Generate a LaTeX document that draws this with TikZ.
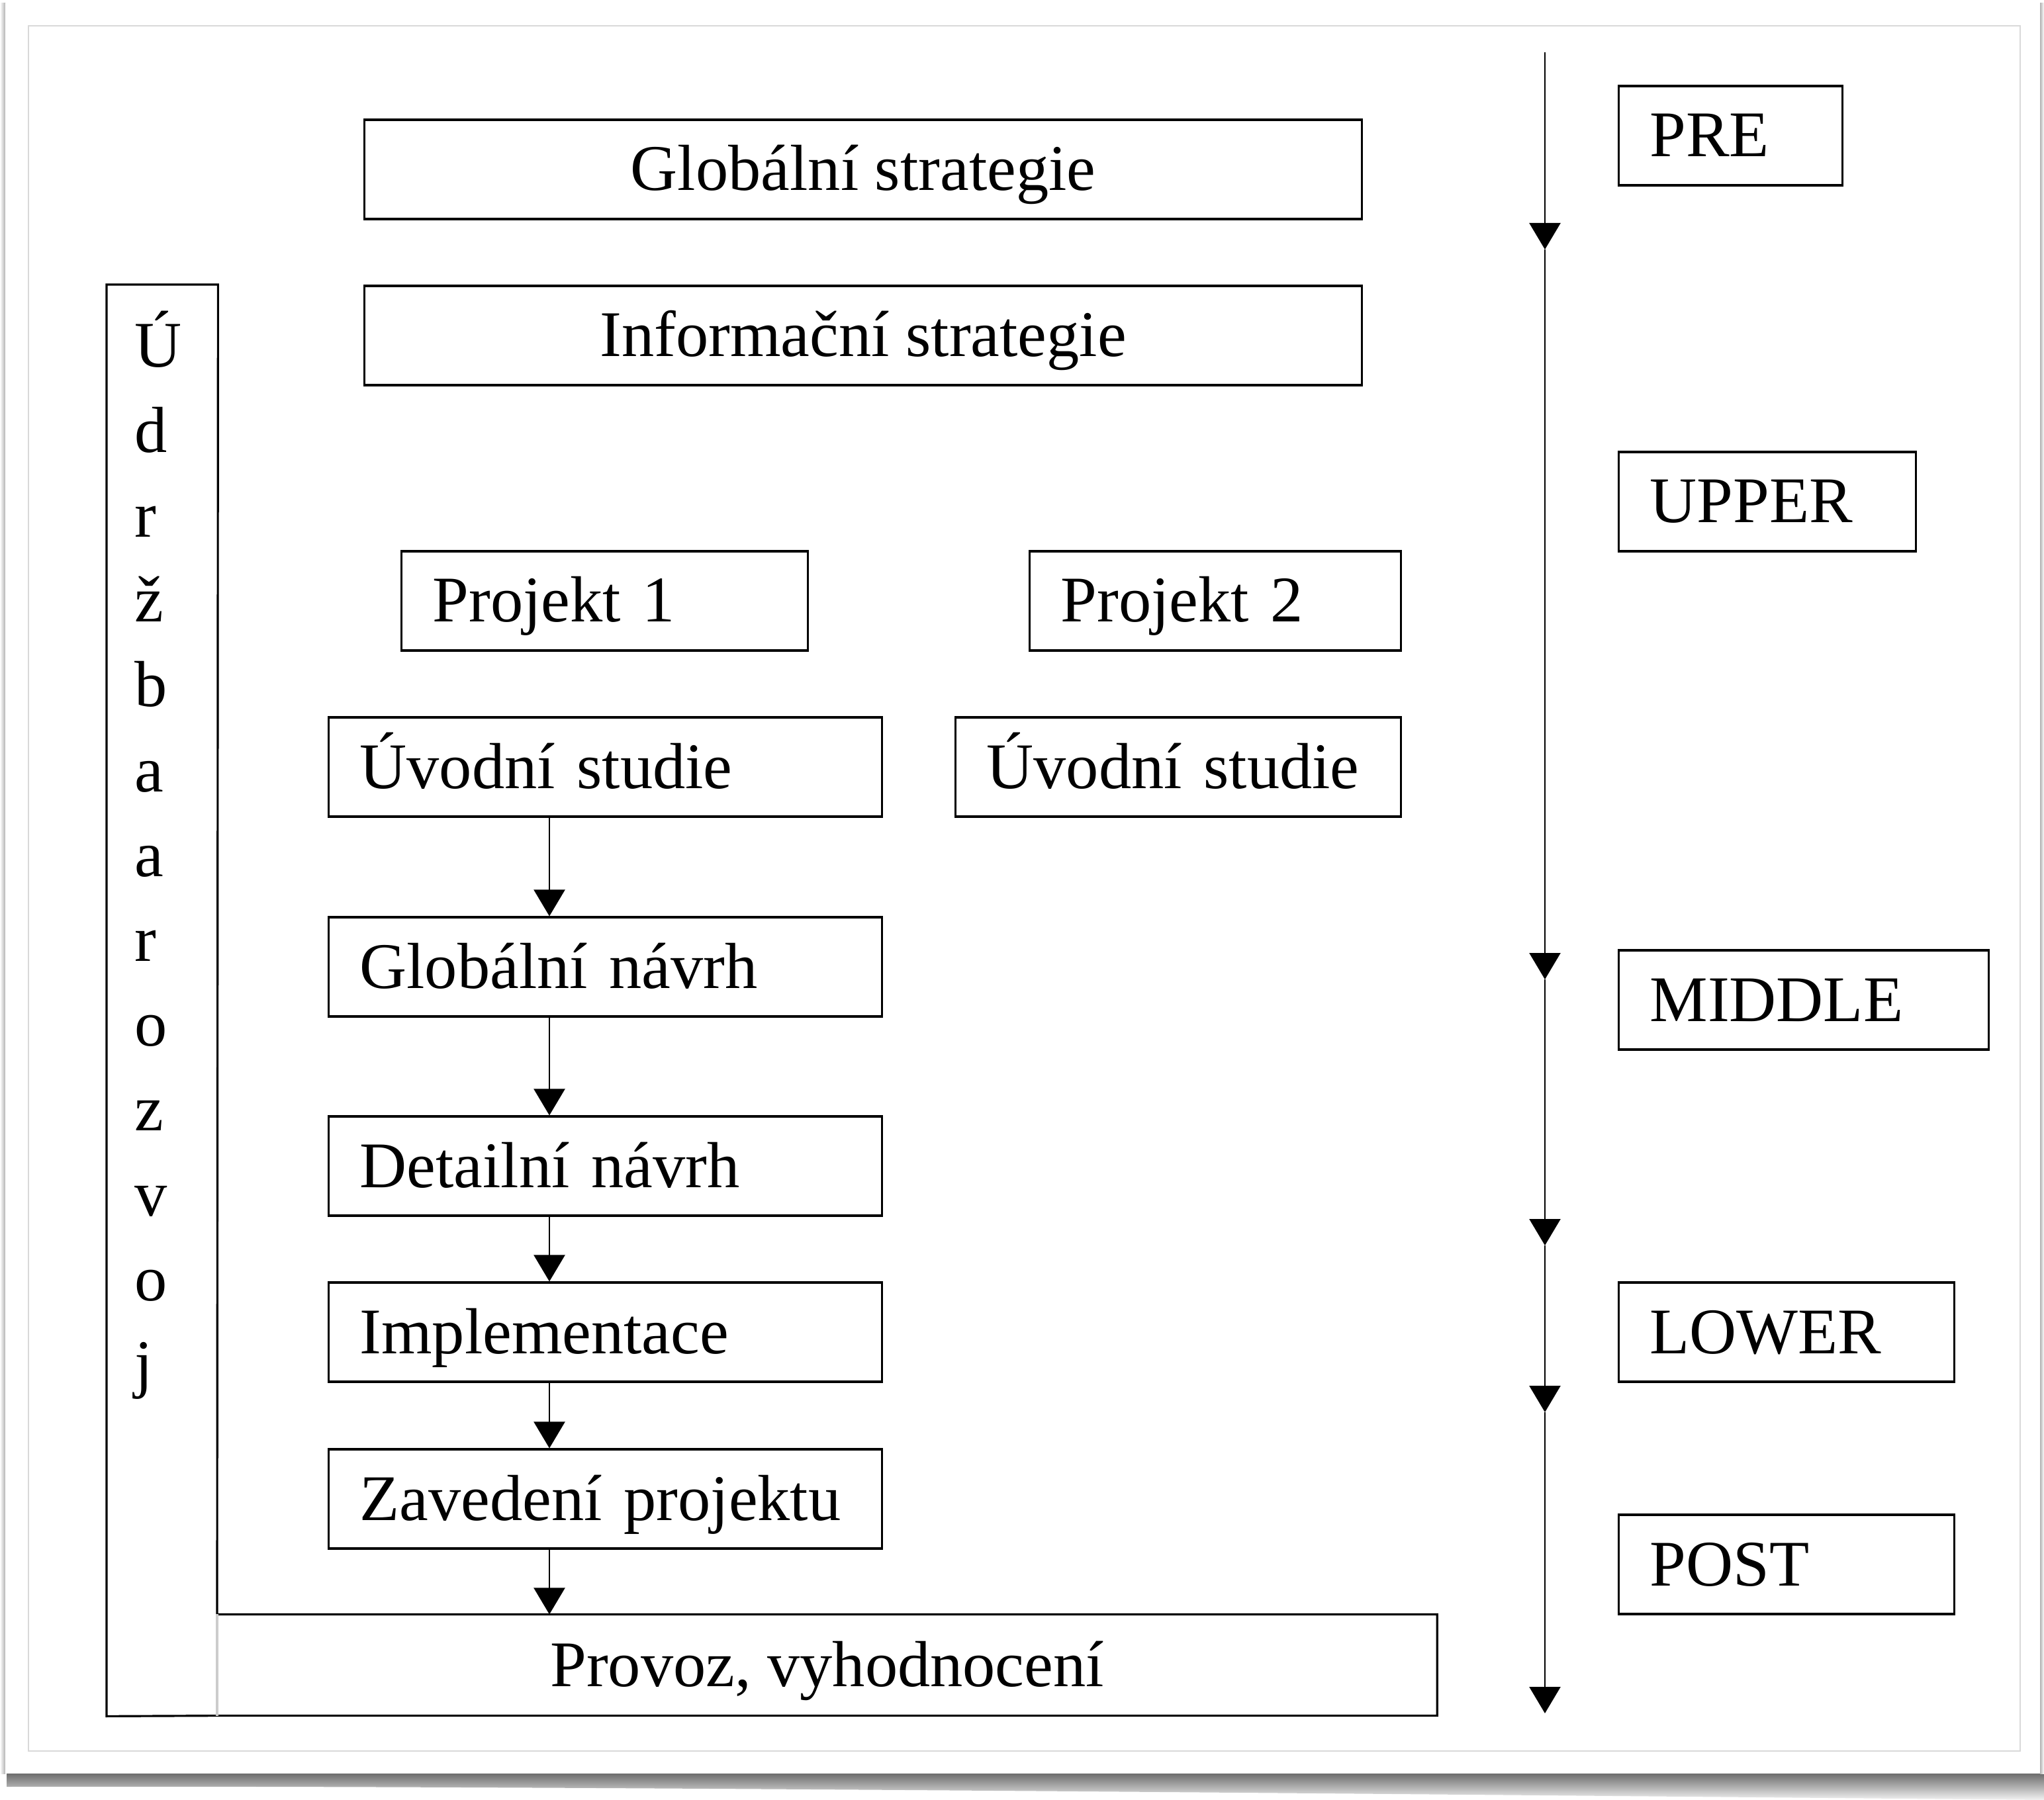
\documentclass[tikz,border=0pt]{standalone}
\usepackage{fontspec}
\setmainfont{Liberation Serif}
\usepackage{tikz}
\usetikzlibrary{positioning, arrows.meta}

\tikzset{
  stagebox/.style={draw, line width=0.9pt, anchor=west, minimum height=1.5cm,
    inner ysep=0pt, inner xsep=0.47cm, text height=0.84cm, text depth=0.2cm,
    font=\fontsize{28}{34}\selectfont},
  leftbox/.style={stagebox, text width=#1, align=left},
  midbox/.style={stagebox, minimum width=#1, align=center},
  letter/.style={anchor=base west, inner sep=0pt, font=\fontsize{28}{34}\selectfont},
  arr/.style={-{Triangle[width=4.7mm,length=4mm]}, line width=0.7pt},
}

\begin{document}
\begin{tikzpicture}
 \useasboundingbox (0,0) rectangle (30.88,-27.20);

 %page with shadow
 \shade[top color=black!60, bottom color=black!5] (0.10,-26.78) -- (30.88,-26.78) -- (30.88,-27.20) .. controls (20,-27.10) and (8,-26.98) .. (0.10,-27.00) -- cycle;
 \shade[left color=white, right color=black!30] (0,-0.05) rectangle (0.08,-26.80);
 \shade[left color=black!30, right color=white] (30.82,-0.05) rectangle (30.88,-26.80);
 \fill[white] (0.08,-0.05) rectangle (30.82,-26.80);
 \draw[black!15, line width=0.4pt] (0.43,-0.39) rectangle (30.52,-26.46);

 \node[midbox=15.07cm] (gstrat) at (5.49,-2.56) {Globální strategie};
 \node[midbox=15.07cm] (istrat) at (5.49,-5.07) {Informační strategie};

 \node[leftbox=5.20cm] (proj1) at (6.05,-9.08) {Projekt 1};
 \node[leftbox=4.67cm] (proj2) at (15.54,-9.08) {Projekt 2};
 \node[leftbox=7.42cm] (uvod1) at (4.95,-11.59) {Úvodní studie};
 \node[leftbox=5.79cm] (uvod2) at (14.42,-11.59) {Úvodní studie};
 \node[leftbox=7.42cm] (gnavrh) at (4.95,-14.61) {Globální návrh};
 \node[leftbox=7.42cm] (dnavrh) at (4.95,-17.62) {Detailní návrh};
 \node[leftbox=7.42cm] (impl) at (4.95,-20.13) {Implementace};
 \node[leftbox=7.42cm] (zaved) at (4.95,-22.65) {Zavedení projektu};
 \node[midbox=18.40cm, draw=none] (provoz) at (3.28,-25.16) {Provoz, vyhodnocení};

 %maintenance column
 \node[anchor=north west, inner sep=0pt, minimum width=1.67cm, minimum height=21.62cm] (udrzba) at (1.61,-4.30) {};
 \draw[line width=0.9pt] (provoz.north west) -- (udrzba.north east) -- (udrzba.north west) -- (udrzba.south west) -- (provoz.south west) -- (provoz.south east) -- (provoz.north east) -- (provoz.north west);
 \draw[black!20, line width=0.9pt] (provoz.north west) -- (provoz.south west);
 \foreach \ch [count=\i from 0] in {Ú,d,r,ž,b,a,a,r,o,z,v,o,j}
   \node[letter] (ch\i) at (2.03,{-5.55-1.282*\i}) {\ch};

 %flow arrows
 \coordinate (ax) at (8.30,0);
 \foreach \a/\b in {uvod1/gnavrh, gnavrh/dnavrh, dnavrh/impl, impl/zaved, zaved/provoz}
   \draw[arr] (\a.south -| ax) -- (\b.north -| ax);

 %phase axis
 \foreach \n/\y in {0/0.79, 1/3.77, 2/14.80, 3/18.82, 4/21.34, 5/25.89}
   \coordinate (t\n) at (23.34,-\y);
 \foreach \a/\b in {0/1, 1/2, 2/3, 3/4, 4/5}
   \draw[arr] (t\a) -- (t\b);

 \node[leftbox=2.44cm] (pre) at (24.44,-2.05) {PRE};
 \node[leftbox=3.55cm] (upper) at (24.44,-7.58) {UPPER};
 \node[leftbox=4.65cm] (middle) at (24.44,-15.11) {MIDDLE};
 \node[leftbox=4.13cm] (lower) at (24.44,-20.13) {LOWER};
 \node[leftbox=4.13cm] (post) at (24.44,-23.64) {POST};
\end{tikzpicture}
\end{document}
